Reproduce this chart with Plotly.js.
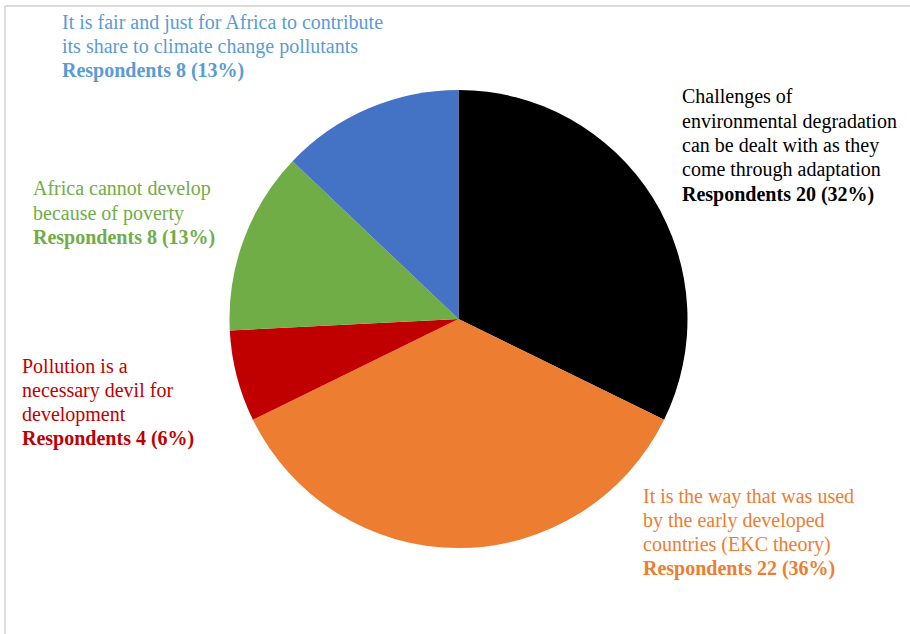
<!DOCTYPE html>
<html>
<head>
<meta charset="utf-8">
<script src="https://cdn.plot.ly/plotly-3.0.1.min.js"></script>
<style>html,body{margin:0;padding:0;background:#fff;}#chart{width:910px;height:634px;}</style>
</head>
<body>
<div id="chart"></div>
<script>
const categories = [
  "Challenges of|environmental degradation|can be dealt with as they|come through adaptation",
  "It is the way that was used|by the early developed|countries (EKC theory)",
  "Pollution is a|necessary devil for|development",
  "Africa cannot develop|because of poverty",
  "It is fair and just for Africa to contribute|its share to climate change pollutants"
];
const respondents = [20, 22, 4, 8, 8];
const percents = [32, 36, 6, 13, 13];
const sliceColors = ["#000000", "#ED7D31", "#C00000", "#70AD47", "#4472C4"];
const labelColors = ["#000000", "#ED7D31", "#C00000", "#70AD47", "#5B9BD5"];
// label block position in pixels (left x, centre y of first line)
const labelPos = [[680, 97], [641, 496], [20, 366], [31, 189], [60, 22]];
const lineStep = 24.3;

const W = 910, H = 634;
const cx = 458.5, cy = 319, r = 229;

const trace = {
  type: "pie",
  labels: categories.map((c, i) => "s" + i),
  values: respondents,
  sort: false,
  direction: "clockwise",
  rotation: 0,
  textinfo: "none",
  hoverinfo: "none",
  marker: { colors: sliceColors, line: { width: 0 } },
  domain: { x: [(cx - r) / W, (cx + r) / W], y: [(H - cy - r) / H, (H - cy + r) / H] },
  showlegend: false
};

const annotations = [];
categories.forEach((c, i) => {
  const lines = c.split("|");
  lines.push("<b>Respondents " + respondents[i] + " (" + percents[i] + "%)</b>");
  lines.forEach((t, k) => {
    annotations.push({
      xref: "paper", yref: "paper",
      x: labelPos[i][0] / W, y: 1 - (labelPos[i][1] + k * lineStep) / H,
      xanchor: "left", yanchor: "middle", align: "left",
      showarrow: false,
      text: t,
      font: { family: "Liberation Serif, Times New Roman, serif", size: 20, color: labelColors[i] }
    });
  });
});

const layout = {
  width: W, height: H,
  margin: { l: 0, r: 0, t: 0, b: 0 },
  paper_bgcolor: "#ffffff",
  annotations: annotations,
  shapes: [
    { type: "line", xref: "paper", yref: "paper", x0: 5 / W, x1: 1, y0: 1 - 6 / H, y1: 1 - 6 / H, line: { color: "#dcdcdc", width: 2 } },
    { type: "line", xref: "paper", yref: "paper", x0: 5 / W, x1: 5 / W, y0: 1 - 6 / H, y1: 0, line: { color: "#dcdcdc", width: 2 } }
  ]
};

Plotly.newPlot("chart", [trace], layout, { displayModeBar: false, staticPlot: true });
</script>
</body>
</html>
